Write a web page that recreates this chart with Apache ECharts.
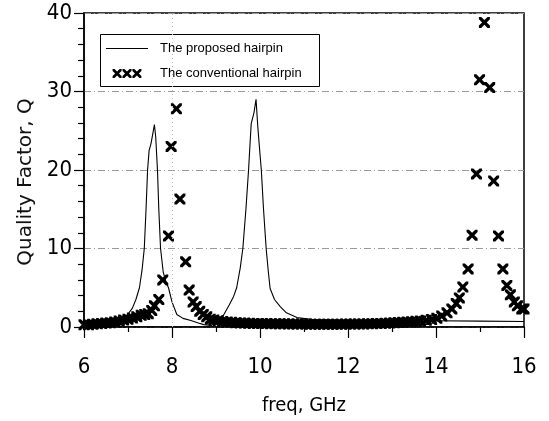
<!DOCTYPE html>
<html>
<head>
<meta charset="utf-8">
<script src="https://cdn.jsdelivr.net/npm/echarts@6/dist/echarts.min.js"></script>
<style>
  html, body { margin: 0; padding: 0; background: #fff; }
  #chart { width: 549px; height: 421px; }
</style>
</head>
<body>
<div id="chart"></div>
<script>
// proposed hairpin (solid line)
var propFreq = [6.0, 6.3, 6.6, 6.8, 6.98, 7.1, 7.18, 7.26, 7.32, 7.37, 7.41, 7.445, 7.48, 7.52, 7.56, 7.6,
  7.63, 7.67, 7.7, 7.74, 7.8, 7.86, 7.92, 8.0, 8.11, 8.25, 8.41, 8.6, 8.72, 8.9, 9.05, 9.17, 9.3, 9.4, 9.47,
  9.55, 9.61, 9.68, 9.74, 9.77, 9.8, 9.86, 9.91, 9.95, 10.0, 10.03, 10.08, 10.14, 10.19, 10.23, 10.33, 10.46,
  10.6, 10.84, 11.2, 12.0, 13.0, 14.0, 15.0, 16.0];
var propQ = [0.4, 0.5, 0.7, 0.9, 1.5, 2.4, 3.5, 5.0, 7.3, 10.0, 15.0, 20.0, 22.5, 23.3, 24.5, 25.8,
  24.2, 20.0, 15.0, 10.0, 7.0, 5.8, 5.0, 3.2, 1.6, 1.1, 0.85, 0.5, 0.3, 0.2, 0.9, 1.5, 2.8, 3.9, 5.0,
  7.5, 10.0, 15.0, 20.0, 23.0, 25.9, 27.2, 29.0, 25.5, 22.0, 20.0, 15.0, 10.0, 7.0, 4.9, 3.5, 2.6,
  1.8, 1.2, 0.95, 0.85, 0.8, 0.8, 0.75, 0.7];

// conventional hairpin (crosses)
var convFreq = [6.0, 6.1, 6.2, 6.3, 6.4, 6.5, 6.6, 6.7, 6.8, 6.9, 7.0, 7.1, 7.2, 7.3, 7.38,
  7.46, 7.54, 7.6, 7.7, 7.79, 7.92, 7.98, 8.1, 8.18, 8.31, 8.39, 8.48, 8.55, 8.63, 8.71, 8.79, 8.87, 8.95, 9.05,
  9.15, 9.25, 9.35, 9.45, 9.55, 9.65, 9.75, 9.85, 9.95, 10.05, 10.15, 10.25, 10.35, 10.45, 10.55, 10.65,
  10.75, 10.85, 10.95, 11.05, 11.15, 11.25, 11.35, 11.45, 11.55, 11.65, 11.75, 11.85, 11.95, 12.05, 12.15,
  12.25, 12.35, 12.45, 12.55, 12.65, 12.75, 12.85, 12.95, 13.05, 13.15, 13.25, 13.35, 13.45, 13.55, 13.65,
  13.78, 13.9, 14.02, 14.13, 14.25, 14.36, 14.46, 14.53, 14.61, 14.73, 14.82, 14.92, 14.99, 15.1, 15.22,
  15.31, 15.42, 15.52, 15.61, 15.69, 15.78, 15.85, 15.95, 16.0];
var convQ = [0.3, 0.3, 0.35, 0.4, 0.45, 0.5, 0.55, 0.65, 0.75, 0.9, 1.0, 1.15, 1.3, 1.5, 1.6,
  1.7, 2.1, 2.7, 3.5, 6.0, 11.6, 23.0, 27.8, 16.3, 8.3, 4.7, 3.2, 2.6, 2.0, 1.6, 1.3, 1.0, 0.9, 0.8,
  0.7, 0.65, 0.6, 0.55, 0.52, 0.5, 0.48, 0.46, 0.45, 0.44, 0.43, 0.42, 0.41, 0.4, 0.4, 0.39,
  0.38, 0.38, 0.37, 0.37, 0.36, 0.36, 0.36, 0.36, 0.36, 0.36, 0.36, 0.36, 0.37, 0.37, 0.38,
  0.38, 0.39, 0.4, 0.42, 0.44, 0.46, 0.48, 0.5, 0.53, 0.56, 0.6, 0.64, 0.68, 0.72, 0.77,
  0.85, 0.95, 1.1, 1.4, 1.8, 2.3, 3.0, 3.7, 5.1, 7.4, 11.7, 19.5, 31.5, 38.8, 30.5,
  18.6, 11.6, 7.4, 5.3, 4.1, 3.2, 2.7, 2.3, 2.3];

var xTicks = [6, 8, 10, 12, 14, 16];
var yTicks = [0, 10, 20, 30, 40];

function crossAt(dx) {
  var p = [[0, 0], [2.12, 0], [5, 2.88], [7.88, 0], [10, 0], [10, 2.12], [7.12, 5], [10, 7.88],
    [10, 10], [7.88, 10], [5, 7.12], [2.12, 10], [0, 10], [0, 7.88], [2.88, 5], [0, 2.12]];
  return 'M' + p.map(function (q) { return (q[0] + dx) + ',' + q[1]; }).join('L') + 'Z';
}
var crossPath = 'path://' + crossAt(0);
var tripleCross = 'path://' + crossAt(0) + crossAt(11) + crossAt(22);
var lineIcon = 'path://M0,0L42,0L42,1.1L0,1.1Z';

var sansNarrow = '"DejaVu Sans Condensed", "Liberation Sans", sans-serif';

function pairs(xs, ys) {
  return xs.map(function (x, i) { return [x, ys[i]]; });
}

var chart = echarts.init(document.getElementById('chart'));
chart.setOption({
  animation: false,
  backgroundColor: '#fff',
  grid: {
    left: 84, right: 25, top: 13, bottom: 93,
    show: true, borderColor: '#000', borderWidth: 1.5
  },
  graphic: [{
    type: 'rect', left: 100, top: 34, z: 5,
    shape: { width: 219, height: 52 },
    style: { fill: '#fff', stroke: '#000', lineWidth: 1 }
  }],
  legend: {
    left: 106, top: 41,
    orient: 'vertical',
    itemWidth: 42, itemHeight: 9, itemGap: 10,
    padding: 0,
    z: 6,
    textStyle: {
      fontFamily: 'Liberation Sans', fontSize: 13, color: '#000',
      lineHeight: 15, padding: [0, 0, 0, 7]
    },
    data: [
      { name: 'The proposed hairpin', icon: lineIcon },
      { name: 'The conventional hairpin', icon: tripleCross }
    ]
  },
  xAxis: {
    type: 'value', min: 6, max: 16, interval: 2,
    name: 'freq, GHz', nameLocation: 'middle', nameGap: 69,
    nameTextStyle: { fontFamily: sansNarrow, fontSize: 20, color: '#000' },
    axisLine: { lineStyle: { color: '#000', width: 1.5 } },
    axisTick: { show: true, length: 11, lineStyle: { color: '#000', width: 1.2 } },
    minorTick: { show: true, splitNumber: 2, length: 5, lineStyle: { color: '#000', width: 1.2 } },
    axisLabel: {
      margin: 29, fontFamily: sansNarrow, fontSize: 22, color: '#000',
      customValues: xTicks
    },
    splitLine: { show: false }
  },
  yAxis: {
    type: 'value', min: 0, max: 40, interval: 10,
    name: 'Quality Factor, Q', nameLocation: 'middle', nameGap: 48, nameRotate: 90,
    nameTextStyle: { fontFamily: 'DejaVu Sans', fontSize: 20, color: '#111', padding: [0, 24, 0, 0] },
    axisLine: { lineStyle: { color: '#000', width: 1.5 } },
    axisTick: { show: true, length: 10, lineStyle: { color: '#000', width: 1.2 } },
    minorTick: { show: true, splitNumber: 5, length: 6, lineStyle: { color: '#000', width: 1.2 } },
    axisLabel: {
      margin: 12, fontFamily: sansNarrow, fontSize: 22, color: '#000',
      customValues: yTicks
    },
    splitLine: {
      show: true,
      lineStyle: { color: '#9a9a9a', width: 1, type: [7, 3, 1, 3] }
    }
  },
  series: [
    {
      name: 'The proposed hairpin',
      type: 'line',
      symbol: 'none',
      data: pairs(propFreq, propQ),
      lineStyle: { color: '#000', width: 1.1 },
      itemStyle: { color: '#000' },
      markLine: {
        silent: true, symbol: 'none', label: { show: false },
        lineStyle: { color: '#bbb', width: 1, type: [1, 3] },
        data: [{ xAxis: 8 }]
      },
      z: 2
    },
    {
      name: 'The conventional hairpin',
      type: 'scatter',
      symbol: crossPath,
      symbolSize: [11, 11],
      clip: false,
      data: pairs(convFreq, convQ),
      itemStyle: { color: '#000', opacity: 1 },
      z: 3
    }
  ]
});
</script>
</body>
</html>
